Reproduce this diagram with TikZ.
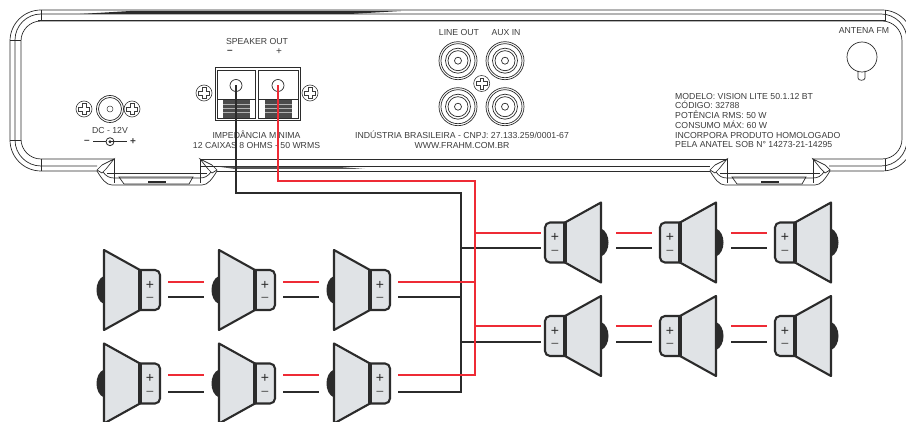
\documentclass[tikz,border=0pt]{standalone}
\usepackage{fontspec}
\setmainfont{Liberation Sans}
\usetikzlibrary{arrows}

\definecolor{wirered}{HTML}{EE2B35}
\definecolor{wireblack}{HTML}{2B2B2B}
\definecolor{conegrey}{HTML}{E0E3E6}
\definecolor{printgrey}{HTML}{3C3C3C}

\begin{document}
\begin{tikzpicture}[x=1pt, y=-1pt]
    \tikzset{
        chassis/.style={line width=0.7pt, wireblack},
        printed/.style={printgrey, font=\fontsize{8.7}{9.7}\selectfont, inner sep=0pt, align=center},
        polarity/.style={printgrey, font=\bfseries\fontsize{10}{10}\selectfont, inner sep=0pt},
        redwire/.style={line width=1.7pt, wirered},
        blackwire/.style={line width=1.7pt, wireblack},
        pics/screw/.style={code={
            \draw [line width=0.6pt, printgrey] (0,0) circle [radius=8];
            \draw [line width=0.45pt, printgrey] (-1.8,-5.5) -- (1.8,-5.5) -- (1.8,-1.8) -- (5.5,-1.8) -- (5.5,1.8) -- (1.8,1.8) -- (1.8,5.5) -- (-1.8,5.5) -- (-1.8,1.8) -- (-5.5,1.8) -- (-5.5,-1.8) -- (-1.8,-1.8) -- cycle;
        }},
        pics/rca/.style={code={
            \draw [chassis] (0,0) circle [radius=19];
            \draw [chassis] (0,0) circle [radius=17];
            \draw [chassis] (0,0) circle [radius=12.5];
            \draw [chassis] (0,0) circle [radius=10];
            \draw [chassis] (0,0) circle [radius=3.5];
        }},
        pics/foot/.style={code={
            \draw [chassis] (0,0) -- (0,24);
            \draw [chassis] (86,0) -- (86,24);
            \draw [chassis] (-7,14) -- (93,14);
            \draw [chassis] (0,0) -- (-12,6) -- (-17,11) -- (-12,14) -- (-8,10) -- cycle;
            \draw [chassis] (86,0) -- (98,6) -- (103,11) -- (98,14) -- (94,10) -- cycle;
            \draw [chassis] (-17,12) .. controls (-12,20) and (-8,26) .. (-2,26) -- (88,26) .. controls (94,26) and (98,20) .. (103,12);
            \draw [chassis] (-11,13) .. controls (-8,17) and (-5,19) .. (0,19) -- (86,19) .. controls (91,19) and (94,17) .. (97,13);
            \draw [chassis] (5,18) -- (79,18) -- (75,25) -- (10,25) -- cycle;
            \fill [wireblack] (34,22.5) -- (52,22.5) -- (52,24.5) -- (34,24.5) -- cycle;
        }},
        pics/speaker/.style n args={2}{code={
            \fill [wireblack] (-36,-14) .. controls (-46,-10) and (-46,10) .. (-36,14) -- cycle;
            \draw [line width=2.1pt, line join=round, wireblack, fill=conegrey] (-36,-40) -- (0,-20) -- (0,20) -- (-36,40) -- cycle;
            \draw [line width=2.1pt, wireblack, fill=conegrey, rounded corners=5pt] (0,-20) -- (20,-20) -- (20,20) -- (0,20);
            \draw [line width=3.2pt, wireblack] (0,-20) -- (0,20);
            \node (plus) at (10,-5) [wireblack, font=\fontsize{14}{14}\selectfont, inner sep=0pt] {+};
            \node (minus) at (10,10) [black!65, font=\fontsize{14}{14}\selectfont, inner sep=0pt] {−};
            \coordinate (redbox) at (28,#1);
            \coordinate (blackbox) at (28,#2);
            \coordinate (redcone) at (-51,#1);
            \coordinate (blackcone) at (-51,#2);
        }},
    }
    \useasboundingbox (0,0) rectangle (906,422);
    \clip (0,0) rectangle (906,422);

    % back panel
    \draw [chassis, rounded corners=20pt] (114,159) -- (21,159) -- (21,21) -- (902,21) -- (902,159) -- (812,159);
    \draw [chassis, rounded corners=26pt] (97,166) -- (15,166) -- (15,14) -- (907,14) -- (907,166) -- (829,166);
    \draw [chassis, rounded corners=31pt] (97,171) -- (10,171) -- (10,10) -- (913,10) -- (913,171) -- (829,171);
    \draw [chassis] (200,166) -- (710,166) (217,171) -- (710,171) (200,159) -- (727,159);
    \draw [chassis] (41,10) -- (41,21) (10,40) -- (21,40) (10,140) -- (21,140) (41,159) -- (41,171);
    \draw [chassis] (885,10) -- (885,21) (885,159) -- (885,171);
    \draw [chassis] (38,20) -- (885,20);
    \fill [wireblack] (80,14) -- (130,11) -- (401,11) -- (350,14) -- cycle;
    \fill [wireblack!80] (217,166.5) -- (340,167) -- (365,169) -- (235,169) -- cycle;
    \pic at (114,159) {foot};
    \pic at (727,159) {foot};

    % dc input
    \pic at (84,109) {screw};
    \pic at (132,109) {screw};
    \draw [chassis] (110,109) circle [radius=13.5];
    \draw [chassis] (110,109) circle [radius=11.5];
    \draw [line width=0.5pt, printgrey] (110,109) circle [radius=3];
    \node (dclabel) at (110,131) [printed] {DC - 12V};
    \node (dcminus) at (87,141.5) [polarity] {–};
    \node (dcplus) at (133,141.5) [polarity] {+};
    \node (dcjack) at (110,141.7) [circle, draw=wireblack, line width=0.8pt, minimum size=8pt, inner sep=0pt] {};
    \fill [wireblack] (dcjack) circle [radius=1.6];
    \draw [chassis, line width=0.9pt] (93,141.7) -- (dcjack.west);
    \draw [chassis, line width=0.9pt] (dcjack.center) -- (127,141.7);

    % speaker terminal
    \node (speakerout) at (257,41.5) [printed] {SPEAKER OUT};
    \node (outminus) at (230,52) [polarity] {–};
    \node (outplus) at (279,52) [polarity, font=\fontsize{10}{10}\selectfont] {+};
    \pic at (204,93) {screw};
    \pic at (310,93) {screw};
    \draw [chassis, line width=0.9pt] (215,67) rectangle (300,120);
    \draw [chassis] (217,70) rectangle (255,118);
    \draw [chassis] (258,70) rectangle (298,118);
    \draw [chassis] (217,99) -- (255,99) (258,99) -- (298,99);
    \fill [wireblack!85] (223,100) rectangle (250,118);
    \fill [wireblack!85] (265,100) rectangle (292,118);
    \draw [white!70!black, line width=0.5pt] (223,104) -- (250,104) (223,108) -- (250,108) (223,112) -- (250,112);
    \draw [white!70!black, line width=0.5pt] (265,104) -- (292,104) (265,108) -- (292,108) (265,112) -- (292,112);
    \node (termneg) at (236,85.5) [circle, draw=wireblack, line width=0.7pt, minimum size=12pt, inner sep=0pt] {};
    \node (termpos) at (278,85.5) [circle, draw=wireblack, line width=0.7pt, minimum size=12pt, inner sep=0pt] {};
    \node (impedance) at (256.5,140) [printed] {IMPEDÂNCIA MÍNIMA\\12 CAIXAS 8 OHMS - 50 WRMS};

    % line out and aux in
    \node (lineout) at (459,32.5) [printed] {LINE OUT};
    \node (auxin) at (506,32.5) [printed] {AUX IN};
    \pic at (458,60.7) {rca};
    \pic at (505,60.7) {rca};
    \pic at (458,106.7) {rca};
    \pic at (505,106.7) {rca};
    \pic at (481.7,83.5) {screw};
    \node (maker) at (462,140) [printed] {INDÚSTRIA BRASILEIRA - CNPJ: 27.133.259/0001-67\\WWW.FRAHM.COM.BR};

    % antenna and model data
    \node (antenalabel) at (864,31) [printed] {ANTENA FM};
    \draw [chassis] (858,71) -- (858,78) .. controls (858,81) and (865,81) .. (865,78) -- (865,71);
    \draw [chassis] (862,57) circle [radius=15];
    \node (model) at (675,120.5) [printed, anchor=west, align=left] {MODELO: VISION LITE 50.1.12 BT\\CÓDIGO: 32788\\POTÊNCIA RMS: 50 W\\CONSUMO MÁX: 60 W\\INCORPORA PRODUTO HOMOLOGADO\\PELA ANATEL SOB N° 14273-21-14295};

    % speakers
    \pic (a1) at (140,290) {speaker={-8}{7}};
    \pic (a2) at (255,290) {speaker={-8}{7}};
    \pic (a3) at (370,290) {speaker={-8}{7}};
    \pic (b1) at (140,383.5) {speaker={-8.5}{8.5}};
    \pic (b2) at (255,383.5) {speaker={-8.5}{8.5}};
    \pic (b3) at (370,383.5) {speaker={-8.5}{8.5}};
    \pic (c1) [xscale=-1] at (565,242.5) {speaker={-9.5}{5.5}};
    \pic (c2) [xscale=-1] at (680,242.5) {speaker={-9.5}{5.5}};
    \pic (c3) [xscale=-1] at (795,242.5) {speaker={-9.5}{5.5}};
    \pic (d1) [xscale=-1] at (565,336) {speaker={-10}{6}};
    \pic (d2) [xscale=-1] at (680,336) {speaker={-10}{6}};
    \pic (d3) [xscale=-1] at (795,336) {speaker={-10}{6}};

    % links between speakers
    \draw [blackwire] (a1blackbox) -- (a2blackcone);
    \draw [blackwire] (a2blackbox) -- (a3blackcone);
    \draw [blackwire] (b1blackbox) -- (b2blackcone);
    \draw [blackwire] (b2blackbox) -- (b3blackcone);
    \draw [blackwire] (c1blackcone) -- (c2blackbox);
    \draw [blackwire] (c2blackcone) -- (c3blackbox);
    \draw [blackwire] (d1blackcone) -- (d2blackbox);
    \draw [blackwire] (d2blackcone) -- (d3blackbox);
    \draw [redwire] (a1redbox) -- (a2redcone);
    \draw [redwire] (a2redbox) -- (a3redcone);
    \draw [redwire] (b1redbox) -- (b2redcone);
    \draw [redwire] (b2redbox) -- (b3redcone);
    \draw [redwire] (c1redcone) -- (c2redbox);
    \draw [redwire] (c2redcone) -- (c3redbox);
    \draw [redwire] (d1redcone) -- (d2redbox);
    \draw [redwire] (d2redcone) -- (d3redbox);

    % runs from the terminal
    \coordinate (blackcorner) at (461,193);
    \coordinate (redcorner) at (475,181);
    \draw [blackwire, line join=miter] (termneg.center) |- (blackcorner) |- (b3blackbox);
    \draw [blackwire] (a3blackbox) -- (blackcorner |- a3blackbox);
    \draw [blackwire] (blackcorner |- c1blackbox) -- ([xshift=4pt]c1blackbox);
    \draw [blackwire] (blackcorner |- d1blackbox) -- ([xshift=4pt]d1blackbox);
    \draw [redwire, line join=miter] (termpos.center) |- (redcorner) |- (b3redbox);
    \draw [redwire] (a3redbox) -- (redcorner |- a3redbox);
    \draw [redwire] (redcorner |- c1redbox) -- ([xshift=4pt]c1redbox);
    \draw [redwire] (redcorner |- d1redbox) -- ([xshift=4pt]d1redbox);
\end{tikzpicture}
\end{document}
